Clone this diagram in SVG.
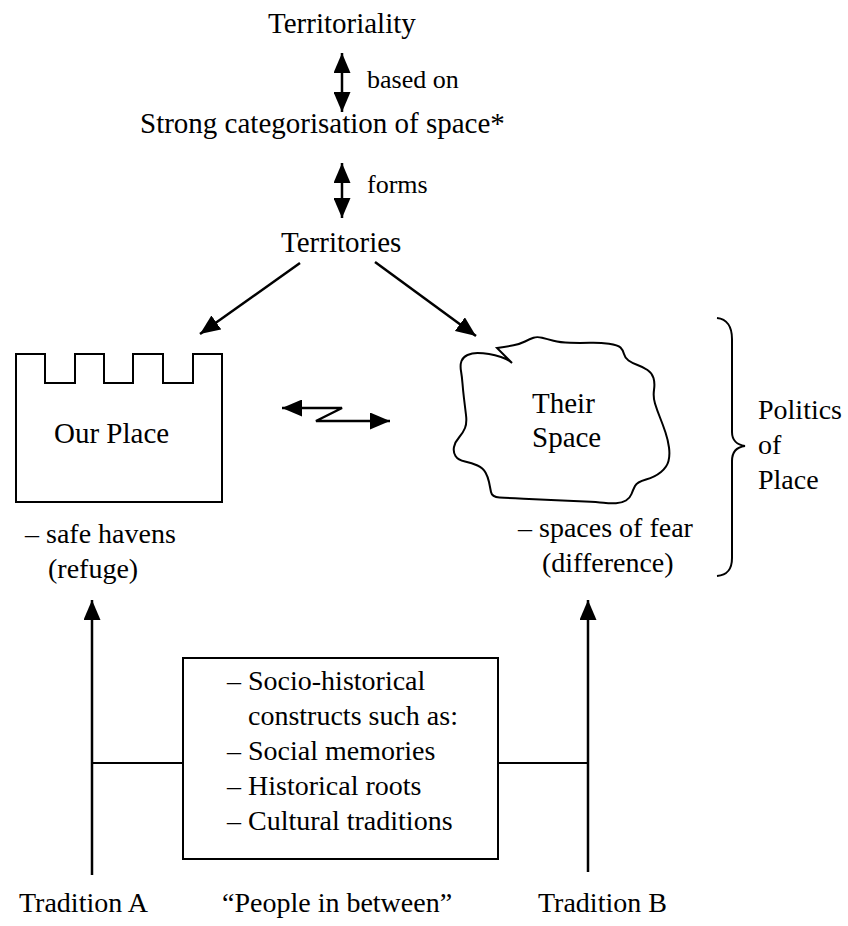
<svg xmlns="http://www.w3.org/2000/svg" width="848" height="926" viewBox="0 0 848 926">
<style>
text{font-family:'Liberation Serif','Times New Roman',serif;font-size:28px;fill:#000}
.big{font-size:29px}
.lbl{font-size:26px}
.ln{fill:none;stroke:#000;stroke-width:2}
.ar{fill:none;stroke:#000;stroke-width:2.5}
</style>
<defs>
<marker id="ah" markerUnits="userSpaceOnUse" markerWidth="20" markerHeight="17" refX="20" refY="8.5" orient="auto-start-reverse" viewBox="0 0 20 17">
<path d="M0,0 L20,8.5 L0,17 Z" fill="#000"/>
</marker>
</defs>
<rect width="848" height="926" fill="#fff"/>
<g id="territoriality"><text class="big" x="268" y="33">Territoriality</text></g>
<g id="categorisation"><text class="big" x="140" y="133">Strong categorisation of space*</text></g>
<g id="territories"><text class="big" x="281" y="252">Territories</text></g>
<g id="our-place">
<path class="ln" d="M16,354 H45 V383 H75 V354 H104 V383 H133 V354 H163 V383 H193 V354 H222 V502 H16 Z"/>
<text class="big" x="54" y="443">Our Place</text>
<text x="25" y="543">– safe havens</text>
<text x="48" y="578">(refuge)</text>
</g>
<g id="their-space">
<path class="ln" d="M497,348 Q507,346.5 513.5,345.25 Q520,344 525,341.5 Q530,339 533.5,337.75 Q537,336.5 542,337.75 Q547,339 553.5,340.75 Q560,342.5 570,342.75 Q580,343 590,342.75 Q600,342.5 609,343.75 Q618,345 620.5,347.5 Q623,350 624,354 Q625,358 628.5,360.5 Q632,363 637.5,365 Q643,367 647.5,370 Q652,373 653.5,378 Q655,383 654,390 Q653,397 655,403.5 Q657,410 660,417.5 Q663,425 665.5,432.5 Q668,440 669,447.5 Q670,455 668.5,461 Q667,467 661,472 Q655,477 646,479.5 Q637,482 635,486 Q633,490 631.5,494 Q630,498 626,500.5 Q622,503 616,503.25 Q610,503.5 603.5,502.75 Q597,502 585,501.5 Q573,501 556.5,500.25 Q540,499.5 523.5,498.75 Q507,498 499.5,497.5 Q492,497 491,492 Q490,487 489,482 Q488,477 485.5,472.5 Q483,468 477.5,465.5 Q472,463 465,461.5 Q458,460 455.5,456 Q453,452 454,447 Q455,442 459,437.5 Q463,433 465,428 Q467,423 466,415 Q465,407 464,398.5 Q463,390 462.5,383.5 Q462,377 461,371 Q460,365 461.5,361 Q463,357 467.5,355 Q472,353 477.5,353 Q483,353 489,354 Q495,355 501,357 Q507,359 509.5,361 L512,363 Z"/>
<text class="big" x="532" y="413">Their</text>
<text class="big" x="532" y="447">Space</text>
<text x="518" y="537">– spaces of fear</text>
<text x="542" y="572">(difference)</text>
</g>
<g id="politics-of-place">
<path class="ln" d="M717,318 C727,319 732,327 732,339 V432 C732,440 737,445 745,446 C737,447 732,452 732,461 V558 C732,570 727,575 717,576"/>
<text x="758" y="419">Politics</text>
<text x="758" y="454">of</text>
<text x="758" y="489">Place</text>
</g>
<g id="constructs">
<rect class="ln" x="183" y="658" width="315" height="201"/>
<text x="227" y="690">– Socio-historical</text>
<text x="248" y="725">constructs such as:</text>
<text x="227" y="760">– Social memories</text>
<text x="227" y="795">– Historical roots</text>
<text x="227" y="830">– Cultural traditions</text>
</g>
<g id="tradition-a"><text x="19" y="912">Tradition A</text></g>
<g id="people-between"><text x="222" y="912">“People in between”</text></g>
<g id="tradition-b"><text x="538" y="912">Tradition B</text></g>
<g id="connectors">
<line class="ar" x1="342" y1="53" x2="342" y2="112" marker-start="url(#ah)" marker-end="url(#ah)"/>
<text class="lbl" x="367" y="88">based on</text>
<line class="ar" x1="342" y1="163" x2="342" y2="218" marker-start="url(#ah)" marker-end="url(#ah)"/>
<text class="lbl" x="367" y="193">forms</text>
<line class="ar" x1="300" y1="263" x2="200" y2="334" marker-end="url(#ah)"/>
<line class="ar" x1="375" y1="262" x2="476" y2="336" marker-end="url(#ah)"/>
<path class="ar" d="M282,408 H342 L316,421 H390" marker-start="url(#ah)" marker-end="url(#ah)"/>
<line class="ar" x1="92" y1="875" x2="92" y2="600" marker-end="url(#ah)"/>
<line class="ar" x1="588" y1="872" x2="588" y2="600" marker-end="url(#ah)"/>
<line class="ln" x1="92" y1="763" x2="183" y2="763"/>
<line class="ln" x1="498" y1="763" x2="588" y2="763"/>
</g>
</svg>
